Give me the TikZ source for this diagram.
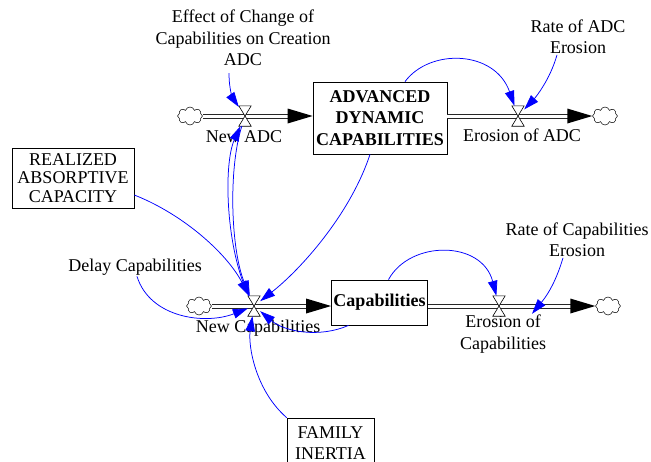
\documentclass[tikz,border=0pt]{standalone}
\usepackage{fontspec}
\setmainfont{Liberation Serif}
\usetikzlibrary{arrows.meta,shapes.symbols}

% filled head at the downstream end of a flow pipe
\newcommand\flowtip[1]{\fill #1 -- ++(-25,-7.5) -- ++(0,15) -- cycle;}

\begin{document}
\begin{tikzpicture}[x=1pt,y=-1pt,
  every node/.style={font=\fontsize{18}{21.5}\selectfont},
  lbl/.style={align=center, inner sep=1pt},
  stock/.style={draw, line width=0.8pt, align=center, inner sep=2pt,
    font=\bfseries\fontsize{18}{21.5}\selectfont},
  auxbox/.style={draw, line width=0.6pt, align=center, inner sep=2pt},
  valve/.style={rectangle, minimum width=12pt, minimum height=20pt, inner sep=0pt},
  sink/.style={cloud, cloud puffs=8, draw, fill=white, line width=0.5pt,
    minimum width=25pt, minimum height=18pt, inner sep=0pt},
  pipe/.style={draw=black!85, double=white, line width=1pt, double distance=3pt},
  link/.style={draw=blue, line width=0.75pt, -{Triangle[length=15pt,width=9.5pt]}},
]
\useasboundingbox (0,0) rectangle (651,461);
\clip (0,0) rectangle (651,461);

% stocks and boxed variables
\node[stock, minimum width=134pt, minimum height=72pt] (adc) at (380,118)
  {ADVANCED\\DYNAMIC\\CAPABILITIES};
\node[stock, minimum width=93pt, minimum height=45pt] (caps) at (379.5,302.5)
  {Capabilities};
\node[auxbox, minimum width=122pt, minimum height=60pt,
  font=\fontsize{18}{18.5}\selectfont] (racap) at (73,178)
  {REALIZED\\ABSORPTIVE\\CAPACITY};
\node[auxbox, minimum width=87pt, minimum height=50pt] (family) at (330.5,443)
  {FAMILY\\INERTIA};

% valves
\node[valve] (v1) at (245,116) {};
\node[valve] (v3) at (518,116) {};
\node[valve] (v2) at (254,306) {};
\node[valve] (v4) at (499,306) {};

% sources and sinks
\node[sink] (cA) at (190,116) {};
\node[sink] (cB) at (605,116) {};
\node[sink] (cC) at (199,306) {};
\node[sink] (cD) at (608,306) {};

% plain variables and flow names
\node[lbl] (eff) at (243,38) {Effect of Change of\\Capabilities on Creation\\ADC};
\node[lbl] (radc) at (578,36.5) {Rate of ADC\\Erosion};
\node[lbl] (nadc) at (244,137) {New ADC};
\node[lbl] (eadc) at (522,135) {Erosion of ADC};
\node[lbl] (delay) at (135,267) {Delay Capabilities};
\node[lbl] (ncap) at (258,328) {New Capabilities};
\node[lbl] (ecap) at (503,334) {Erosion of\\Capabilities};
\node[lbl] (rcap) at (577,239.5) {Rate of Capabilities\\Erosion};

% flow pipes
\draw[pipe, shorten >=15pt] (cA.east) -- (adc.west |- v1);
\draw[pipe, shorten >=15pt] (adc.east |- v3) -- (cB.west);
\draw[pipe, shorten >=15pt] (cC.east) -- (caps.west |- v2);
\draw[pipe, shorten >=15pt] (caps.east |- v4) -- (cD.west);
\flowtip{(adc.west |- v1)}
\flowtip{(cB.west)}
\flowtip{(caps.west |- v2)}
\flowtip{(cD.west)}

% hourglass valves
\foreach \v in {v1,v2,v3,v4}
  \filldraw[fill=white, line width=0.6pt]
    (\v.north west) -- (\v.north east) -- (\v.south west) -- (\v.south east) -- cycle;

% causal links
\draw[link] ([xshift=-14pt,yshift=-6pt]eff.south) .. controls (229,92) and (234,100) .. (v1);
\draw[link] (v2) .. controls (226,250) and (223,165) .. (v1);
\draw[link] (v1) .. controls (228,170) and (231,250) .. (v2);
\draw[link] ([yshift=-17pt]racap.east) .. controls (185,215) and (228,255) .. (v2);
\draw[link] ([xshift=-10pt]adc.south) .. controls (350,215) and (300,270) .. (v2);
\draw[link] ([xshift=2pt]delay.south) .. controls (150,318) and (205,325) .. (v2);
\draw[link] ([xshift=-31pt]caps.south) .. controls (320,338) and (285,332) .. (v2);
\draw[link] (family.north west) .. controls (255,390) and (248,345) .. (v2);
\draw[link] ([xshift=25pt]adc.north) .. controls (430,48) and (495,50) .. (v3);
\draw[link] ([xshift=-21pt]radc.south) .. controls (550,80) and (535,98) .. (v3);
\draw[link] ([xshift=9pt]caps.north) .. controls (410,240) and (482,240) .. (v4);
\draw[link] ([xshift=-14pt]rcap.south) .. controls (555,285) and (545,298) .. ([xshift=29pt]ecap.north);
\end{tikzpicture}
\end{document}
